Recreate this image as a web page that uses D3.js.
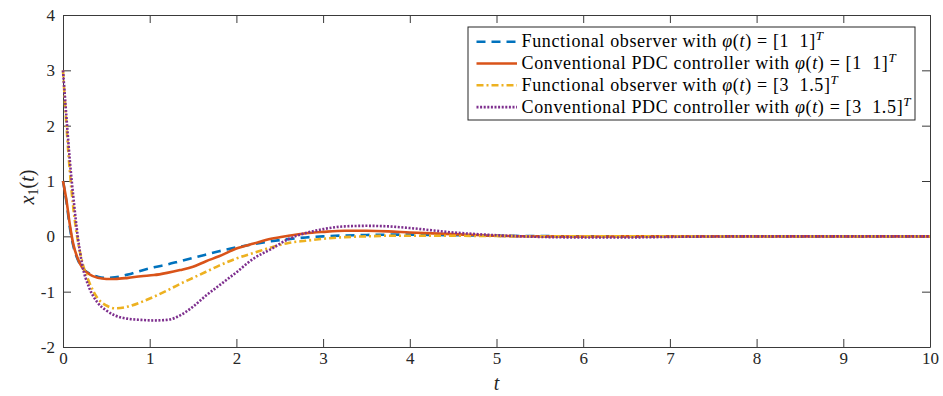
<!DOCTYPE html>
<html>
<head>
<meta charset="utf-8">
<script src="https://cdn.jsdelivr.net/npm/d3@7"></script>
<style>
  body { margin: 0; background: #fff; }
  svg { display: block; }
  svg text { font-family: "Liberation Serif", "Times New Roman", serif; }
</style>
</head>
<body>
<div class="canvas"></div>
<script>
// sample times (s)
const tVals = [0, 0.04, 0.08, 0.12, 0.17, 0.22, 0.3, 0.4, 0.5, 0.6, 0.75, 0.9, 1.05, 1.2, 1.35, 1.5, 1.65, 1.8, 2.0, 2.2, 2.4, 2.6, 2.8, 3.0, 3.25, 3.5, 3.75, 4.0, 4.5, 5.0, 5.5, 6, 6.5, 7, 8, 9, 10];

// functional observer, phi = [1 1]
const foA = [1.0, 0.62, 0.15, -0.18, -0.42, -0.56, -0.67, -0.73, -0.75, -0.74, -0.69, -0.62, -0.56, -0.51, -0.45, -0.39, -0.33, -0.27, -0.2, -0.14, -0.09, -0.05, -0.02, 0.0, 0.015, 0.025, 0.03, 0.03, 0.02, 0.01, 0.005, 0, 0, 0, 0, 0, 0];
// conventional PDC, phi = [1 1]
const pdcA = [1.0, 0.65, 0.2, -0.15, -0.4, -0.56, -0.68, -0.75, -0.77, -0.77, -0.75, -0.72, -0.7, -0.66, -0.61, -0.55, -0.45, -0.36, -0.22, -0.13, -0.045, 0.01, 0.055, 0.08, 0.1, 0.1, 0.09, 0.07, 0.04, 0.01, 0.0, -0.005, 0, 0, 0, 0, 0];
// functional observer, phi = [3 1.5]
const foB = [3.0, 2.0, 1.15, 0.5, -0.07, -0.45, -0.82, -1.12, -1.25, -1.3, -1.27, -1.19, -1.09, -0.98, -0.86, -0.75, -0.64, -0.53, -0.4, -0.3, -0.2, -0.12, -0.08, -0.045, -0.015, 0.0, 0.01, 0.01, 0.01, 0.005, 0, 0, 0, 0, 0, 0, 0];
// conventional PDC, phi = [3 1.5]
const pdcB = [3.0, 2.15, 1.35, 0.7, 0.0, -0.5, -0.92, -1.2, -1.34, -1.43, -1.49, -1.51, -1.52, -1.51, -1.43, -1.27, -1.07, -0.89, -0.65, -0.4, -0.23, -0.05, 0.06, 0.13, 0.18, 0.19, 0.18, 0.15, 0.07, 0.02, -0.01, -0.02, -0.02, -0.01, 0, 0, 0];

const xTicks = [0, 1, 2, 3, 4, 5, 6, 7, 8, 9, 10];
const yTicks = [-2, -1, 0, 1, 2, 3, 4];

const legendText = ['Functional observer with ', 'Conventional PDC controller with ', 'Functional observer with ', 'Conventional PDC controller with '];
const legendPhi = ['[1  1]', '[1  1]', '[3  1.5]', '[3  1.5]'];

const series = [
  { vals: foA, color: '#0072BD', dash: '9,6' },
  { vals: pdcA, color: '#D95319', dash: null },
  { vals: foB, color: '#EDB120', dash: '7,3,2,3' },
  { vals: pdcB, color: '#7E2F8E', dash: '2,1.6' }
];

const margin = { top: 15, right: 13, bottom: 49, left: 63 };
const width = 943, height = 396;
const graphWidth = width - margin.left - margin.right;
const graphHeight = height - margin.top - margin.bottom;

const svg = d3.select('.canvas')
  .append('svg')
  .attr('width', width)
  .attr('height', height);

const graph = svg.append('g')
  .attr('transform', `translate(${margin.left}, ${margin.top})`);

const x = d3.scaleLinear().domain([0, 10]).range([0, graphWidth]);
const y = d3.scaleLinear().domain([-2, 4]).range([graphHeight, 0]);

const axisColor = '#3a3a3a';
const plainNum = d => String(d);

// axes, ticks pointing inward (matlab box style)
const xAxisGroup = graph.append('g')
  .attr('transform', `translate(0, ${graphHeight})`)
  .call(d3.axisBottom(x).tickValues(xTicks).tickFormat(plainNum).tickSizeInner(-8).tickSizeOuter(0).tickPadding(5));
const yAxisGroup = graph.append('g')
  .call(d3.axisLeft(y).tickValues(yTicks).tickFormat(plainNum).tickSizeInner(-8).tickSizeOuter(0).tickPadding(8));
graph.append('g')
  .call(d3.axisTop(x).tickValues(xTicks).tickSizeInner(-8).tickSizeOuter(0).tickFormat(''));
graph.append('g')
  .attr('transform', `translate(${graphWidth}, 0)`)
  .call(d3.axisRight(y).tickValues(yTicks).tickSizeInner(-8).tickSizeOuter(0).tickFormat(''));

graph.selectAll('.domain').attr('stroke', axisColor);
graph.selectAll('.tick line').attr('stroke', axisColor);
graph.selectAll('.tick text')
  .style('font-size', '17px')
  .attr('fill', '#262626');

// curves
const line = d3.line()
  .x((d, i) => x(tVals[i]))
  .y(d => y(d))
  .curve(d3.curveMonotoneX);

series.forEach(s => {
  graph.append('path')
    .datum(s.vals)
    .attr('fill', 'none')
    .attr('stroke', s.color)
    .attr('stroke-width', 2.6)
    .attr('stroke-dasharray', s.dash)
    .attr('d', line);
});

// axis labels
svg.append('text')
  .attr('x', margin.left + x(5))
  .attr('y', 390)
  .attr('text-anchor', 'middle')
  .style('font-style', 'italic')
  .style('font-size', '20px')
  .attr('fill', '#262626')
  .text('t');

const yLab = svg.append('text')
  .attr('transform', 'translate(34, 187) rotate(-90)')
  .attr('text-anchor', 'middle')
  .style('font-size', '20px')
  .attr('fill', '#262626');
yLab.append('tspan').style('font-style', 'italic').text('x');
yLab.append('tspan').style('font-size', '14px').attr('dy', 4).text('1');
yLab.append('tspan').attr('dy', -4).text('(');
yLab.append('tspan').style('font-style', 'italic').text('t');
yLab.append('tspan').text(')');

// legend
const legend = svg.append('g').attr('transform', 'translate(468, 27)');
legend.append('rect')
  .attr('width', 447)
  .attr('height', 93)
  .attr('fill', '#fff')
  .attr('stroke', '#262626')
  .attr('stroke-width', 1);

series.forEach((s, i) => {
  const ly = 14.7 + i * 21.8;
  legend.append('line')
    .attr('x1', 8.5).attr('x2', 49)
    .attr('y1', ly).attr('y2', ly)
    .attr('stroke', s.color)
    .attr('stroke-width', 2.6)
    .attr('stroke-dasharray', s.dash);
  const txt = legend.append('text')
    .attr('x', 53.5)
    .attr('y', ly + 5.5)
    .style('font-size', '18px')
    .style('letter-spacing', '0.65px')
    .style('white-space', 'pre')
    .attr('fill', '#000');
  txt.append('tspan').text(legendText[i]);
  txt.append('tspan').style('font-style', 'italic').text('φ');
  txt.append('tspan').text('(');
  txt.append('tspan').style('font-style', 'italic').text('t');
  txt.append('tspan').text(') = ' + legendPhi[i]);
  txt.append('tspan').style('font-style', 'italic').style('font-size', '13px').attr('dy', -7).text('T');
});
</script>
</body>
</html>
